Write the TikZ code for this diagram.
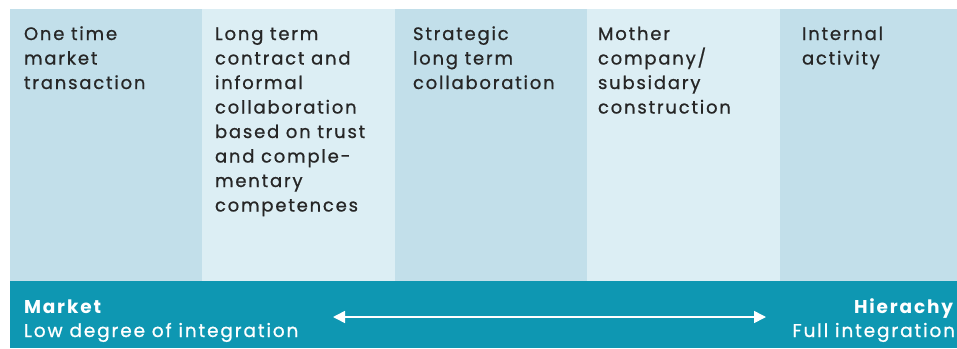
\documentclass[tikz,border=0pt]{standalone}
\usepackage{fontspec}
\setmainfont{Poppins}[LetterSpace=10, UprightFeatures={FakeBold=0.8}]
\usetikzlibrary{arrows.meta}
\definecolor{colA}{HTML}{C2DFEA}
\definecolor{colB}{HTML}{DCEEF4}
\definecolor{barteal}{HTML}{0E97B2}
\definecolor{txtdark}{HTML}{262626}
\begin{document}
\begin{tikzpicture}[x=1pt,y=-1pt,
  coltext/.style={anchor=base west,inner sep=0,outer sep=0,align=left,text=txtdark,
    font=\fontsize{18}{24.5}\selectfont},
  bartext/.style={inner sep=0,outer sep=0,text=white,font=\fontsize{18.5}{24}\selectfont},
  scalearrow/.style={draw=white,line width=1.6pt,{Triangle[length=12pt,width=12pt]}-{Triangle[length=12pt,width=12pt]}}]
\useasboundingbox (0,0) rectangle (957,348);
\fill[white] (0,0) rectangle (957,348);
% columns
\fill[colA] (10,9) rectangle (202,281);
\fill[colB] (202,9) rectangle (395,281);
\fill[colA] (395,9) rectangle (587,281);
\fill[colB] (587,9) rectangle (780,281);
\fill[colA] (780,9) rectangle (957,281);
% bar
\fill[barteal] (10,281) rectangle (957,348);
% column texts (anchor = baseline of last line)
\node[coltext] (t1) at (24,89) {One time\\market\\transaction};
\node[coltext] (t2) at (215,211.5) {Long term\\contract and\\informal\\collaboration\\based on trust\\and comple-\\mentary\\competences};
\node[coltext] (t3) at (413,89) {Strategic\\long term\\collaboration};
\node[coltext] (t4) at (598,113.5) {Mother\\company/\\subsidary\\construction};
\node[coltext] (t5) at (802,64.5) {Internal\\activity};
% bar texts
\node[bartext,anchor=base west,align=left] (mkt) at (24,337) {\textbf{Market}\\Low degree of integration};
\node[bartext,anchor=base east,align=right] (hier) at (955,337) {\textbf{Hierachy}\\Full integration};
% arrow
\coordinate (al) at (333,317);
\coordinate (ar) at (766,317);
\draw[scalearrow] (al) -- (ar);
\end{tikzpicture}
\end{document}
